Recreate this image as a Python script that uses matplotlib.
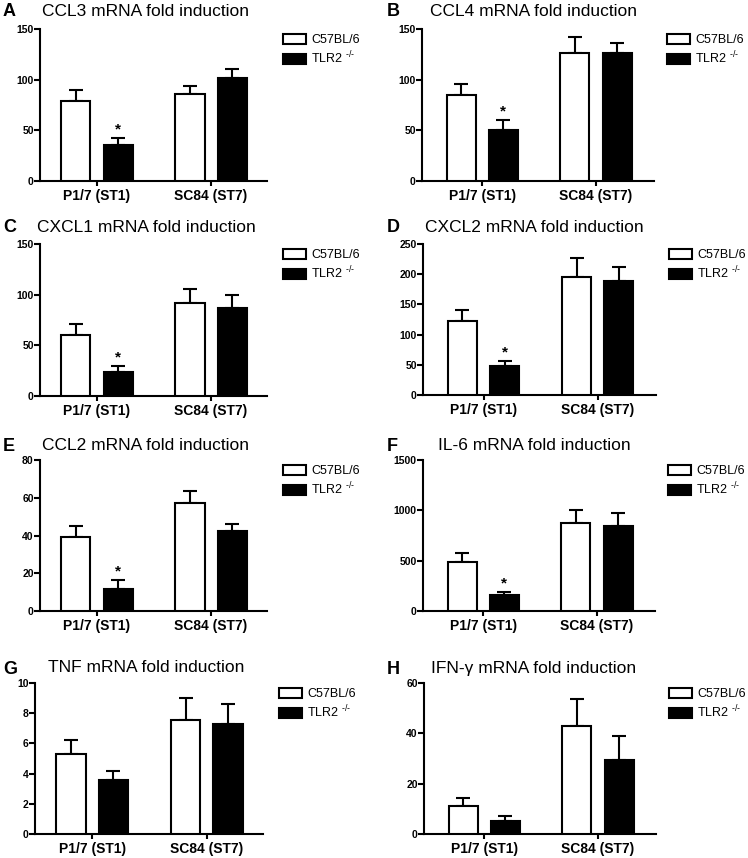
import matplotlib
matplotlib.use("Agg")
import matplotlib.pyplot as plt
import numpy as np

plt.rcParams['font.family'] = ['Liberation Sans', 'DejaVu Sans']
plt.rcParams['mathtext.fontset'] = 'custom'
plt.rcParams['mathtext.rm'] = 'Liberation Sans'

groups = ["P1/7 (ST1)", "SC84 (ST7)"]
series = ["C57BL/6", "TLR2 $^{\\mathregular{\u2010/\u2010}}$"]

letters = ["A", "B", "C", "D", "E", "F", "G", "H"]
titles = ["CCL3 mRNA fold induction", "CCL4 mRNA fold induction",
          "CXCL1 mRNA fold induction", "CXCL2 mRNA fold induction",
          "CCL2 mRNA fold induction", "IL-6 mRNA fold induction",
          "TNF mRNA fold induction", "IFN-\u03b3 mRNA fold induction"]

# C57BL/6 (wild type) means and error, TLR2-/- means and error; per group
ccl3_wt, ccl3_wt_err = [79, 85.5], [10.8, 8.5]
ccl3_ko, ccl3_ko_err = [36, 102], [6.6, 8.2]
ccl4_wt, ccl4_wt_err = [85, 126], [10.7, 16]
ccl4_ko, ccl4_ko_err = [50, 126], [10, 10.5]
cxcl1_wt, cxcl1_wt_err = [60, 92], [11, 14]
cxcl1_ko, cxcl1_ko_err = [24, 86.5], [5.6, 13.3]
cxcl2_wt, cxcl2_wt_err = [122, 196], [19.5, 31]
cxcl2_ko, cxcl2_ko_err = [48.7, 188], [7.7, 24]
ccl2_wt, ccl2_wt_err = [39.4, 57.4], [5.8, 6.4]
ccl2_ko, ccl2_ko_err = [11.5, 42.4], [4.9, 3.5]
il6_wt, il6_wt_err = [488, 870], [89, 132]
il6_ko, il6_ko_err = [156, 843], [33, 126]
tnf_wt, tnf_wt_err = [5.3, 7.57], [0.95, 1.43]
tnf_ko, tnf_ko_err = [3.6, 7.28], [0.6, 1.35]
ifng_wt, ifng_wt_err = [11.3, 43], [3.1, 10.6]
ifng_ko, ifng_ko_err = [5.3, 29.3], [1.7, 9.7]

y_max = [150, 150, 150, 250, 80, 1500, 10, 60]
y_step = [50, 50, 50, 50, 20, 500, 2, 20]
significant = [True, True, True, True, True, True, False, False]

panel_data = [
    (ccl3_wt, ccl3_wt_err, ccl3_ko, ccl3_ko_err),
    (ccl4_wt, ccl4_wt_err, ccl4_ko, ccl4_ko_err),
    (cxcl1_wt, cxcl1_wt_err, cxcl1_ko, cxcl1_ko_err),
    (cxcl2_wt, cxcl2_wt_err, cxcl2_ko, cxcl2_ko_err),
    (ccl2_wt, ccl2_wt_err, ccl2_ko, ccl2_ko_err),
    (il6_wt, il6_wt_err, il6_ko, il6_ko_err),
    (tnf_wt, tnf_wt_err, tnf_ko, tnf_ko_err),
    (ifng_wt, ifng_wt_err, ifng_ko, ifng_ko_err),
]

W, H = 748, 858
fig = plt.figure(figsize=(W / 100, H / 100), dpi=100)

# axes boxes in pixels: (left, right, top, bottom)
boxes = [(40, 267, 29, 181), (422, 654, 29, 181),
         (40, 267, 244, 396), (423, 656, 244, 395),
         (40, 267, 460, 611), (423, 655, 460, 611),
         (35, 263, 683, 834), (424, 656, 683, 834)]
title_y = [11, 11, 227, 227, 445, 445, 668, 668]

lw = 1.5
bar_w = 0.255
off = 0.185
x = np.arange(len(groups))

for i in range(8):
    l, r, t, b = boxes[i]
    ax = fig.add_axes([l / W, (H - b) / H, (r - l) / W, (b - t) / H])
    wt, wt_err, ko, ko_err = panel_data[i]
    ax.bar(x - off, wt, width=bar_w, color='white', edgecolor='black',
           linewidth=lw, label=series[0], zorder=3)
    ax.bar(x + off, ko, width=bar_w, color='black', edgecolor='black',
           linewidth=lw, label=series[1], zorder=3)
    ax.errorbar(x - off, wt, yerr=[np.zeros(2), wt_err], fmt='none',
                ecolor='black', elinewidth=lw, capsize=5, capthick=lw, zorder=2)
    ax.errorbar(x + off, ko, yerr=[np.zeros(2), ko_err], fmt='none',
                ecolor='black', elinewidth=lw, capsize=5, capthick=lw, zorder=2)
    if significant[i]:
        ax.annotate('*', (x[0] + off, ko[0] + ko_err[0]), xytext=(0, 1),
                    textcoords='offset points', ha='center', va='bottom',
                    fontsize=11, fontweight='bold')
    ax.set_ylim(0, y_max[i])
    ax.set_yticks(np.arange(0, y_max[i] + y_step[i] / 2, y_step[i]))
    col = i % 2
    if col == 0:
        ax.set_xlim(-0.5, 1.49)
    else:
        ax.set_xlim(-0.53, 1.51)
    ax.set_xticks(x)
    ax.set_xticklabels(groups, fontsize=10, fontweight='bold')
    for lab in ax.get_yticklabels():
        lab.set_fontweight('bold')
        lab.set_fontsize(7.5)
    ax.tick_params(axis='y', direction='out', length=4, width=lw, pad=0.5)
    ax.tick_params(axis='x', direction='out', length=3.5, width=lw, pad=2)
    for s in ['top', 'right']:
        ax.spines[s].set_visible(False)
    for s in ['left', 'bottom']:
        ax.spines[s].set_linewidth(lw)
    leg_x = 1.07 if col == 0 else 1.056
    ax.legend(loc='upper left', bbox_to_anchor=(leg_x, 0.967), frameon=False,
              fontsize=9, handlelength=1.85, handleheight=0.85,
              labelspacing=0.27, handletextpad=0.4, borderpad=0,
              borderaxespad=0)
    # panel letter and title
    fig.text((3 if col == 0 else 387) / W, 1 - (title_y[i] + 1) / H, letters[i],
             fontsize=13, fontweight='bold', ha='left', va='center')
    fig.text((146 if col == 0 else 534) / W, 1 - title_y[i] / H, titles[i],
             fontsize=12.5, ha='center', va='center')

fig.savefig('out.png', dpi=100)
